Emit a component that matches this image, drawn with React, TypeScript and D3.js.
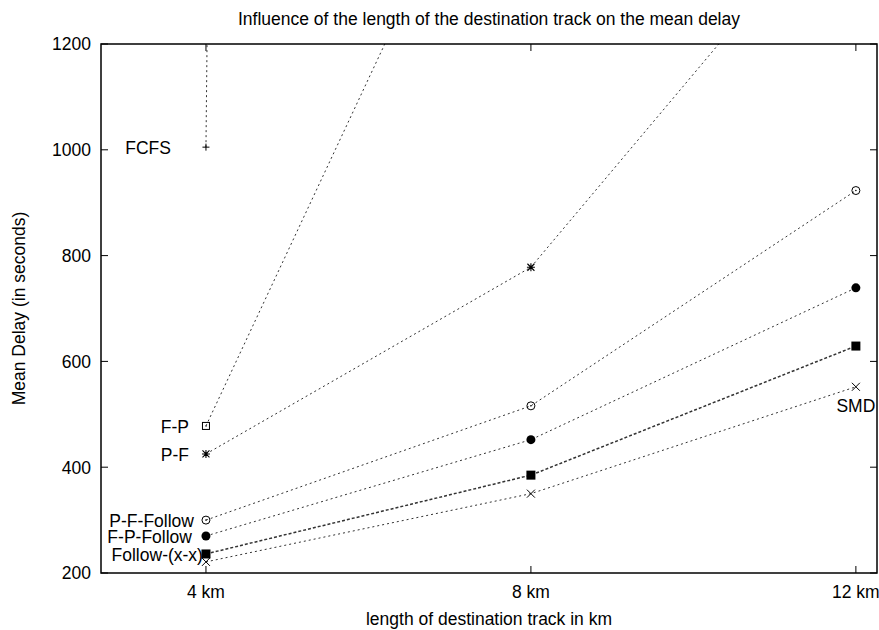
import { useEffect, useRef } from 'react';
import * as d3 from 'd3';

// track lengths (km)
const lengths = [4, 8, 12];
const xTickLabels = ['4 km', '8 km', '12 km'];
const yTicks = [200, 400, 600, 800, 1000, 1200];

// mean delay per strategy (s); values above 1200 run off the top of the plot
const fcfs = [1005, 60000, 120000];
const fp = [478, 1790, 3200];
const pf = [425, 778, 1508];
const pfFollow = [300, 516, 923];
const fpFollow = [270, 452, 739];
const followXX = [236, 385, 629];
const smd = [221, 350, 552];

type Marker = 'plus' | 'boxdot' | 'star' | 'circledot' | 'disc' | 'fillbox' | 'cross';

interface Series {
  name: string;
  values: number[];
  marker: Marker;
  labelDx: number;
  labelDy: number;
  anchor: 'start' | 'middle' | 'end';
}

const series: Series[] = [
  { name: 'FCFS', values: fcfs, marker: 'plus', labelDx: -35, labelDy: 7, anchor: 'end' },
  { name: 'F-P', values: fp, marker: 'boxdot', labelDx: -17, labelDy: 7, anchor: 'end' },
  { name: 'P-F', values: pf, marker: 'star', labelDx: -17, labelDy: 7, anchor: 'end' },
  { name: 'P-F-Follow', values: pfFollow, marker: 'circledot', labelDx: -12, labelDy: 7, anchor: 'end' },
  { name: 'F-P-Follow', values: fpFollow, marker: 'disc', labelDx: -14, labelDy: 7, anchor: 'end' },
  { name: 'Follow-(x-x)', values: followXX, marker: 'fillbox', labelDx: -3, labelDy: 7, anchor: 'end' },
  { name: 'SMD', values: smd, marker: 'cross', labelDx: 0, labelDy: 25, anchor: 'middle' },
];

const App = () => {
  const svgRef = useRef<SVGSVGElement | null>(null);
  const width = 879;
  const height = 630;

  useEffect(() => {
    if (!svgRef.current) return;
    const svg = d3.select(svgRef.current);
    svg.selectAll('*').remove();

    const margin = { top: 44, right: 2, bottom: 57, left: 101 };
    const innerW = width - margin.left - margin.right;
    const innerH = height - margin.top - margin.bottom;

    const x = d3.scaleLinear().domain([2.708, 12.26]).range([0, innerW]);
    const y = d3.scaleLinear().domain([200, 1200]).range([innerH, 0]);

    const font = '"Liberation Sans", Arial, Helvetica, sans-serif';
    const fs = '17.5px';

    svg.append('defs').append('clipPath').attr('id', 'plotclip')
      .append('rect').attr('width', innerW).attr('height', innerH);

    const g = svg.append('g').attr('transform', `translate(${margin.left},${margin.top})`);

    // ticks (inward, on all four sides)
    const tickLen = 7;
    yTicks.forEach(t => {
      g.append('line').attr('x1', 0).attr('x2', tickLen).attr('y1', y(t)).attr('y2', y(t))
        .attr('stroke', '#000');
      g.append('line').attr('x1', innerW).attr('x2', innerW - tickLen).attr('y1', y(t)).attr('y2', y(t))
        .attr('stroke', '#000');
      g.append('text').attr('x', -10).attr('y', y(t)).attr('dy', '0.36em')
        .attr('text-anchor', 'end').style('font-family', font).style('font-size', fs)
        .text(t);
    });
    lengths.forEach((l, i) => {
      g.append('line').attr('x1', x(l)).attr('x2', x(l)).attr('y1', innerH).attr('y2', innerH - tickLen)
        .attr('stroke', '#000');
      g.append('line').attr('x1', x(l)).attr('x2', x(l)).attr('y1', 0).attr('y2', tickLen)
        .attr('stroke', '#000');
      g.append('text').attr('x', x(l)).attr('y', innerH + 25)
        .attr('text-anchor', 'middle').style('font-family', font).style('font-size', fs)
        .text(xTickLabels[i]);
    });

    // lines
    const line = d3.line<number>()
      .x((_, i) => x(lengths[i]))
      .y(d => y(d));

    const lines = g.append('g').attr('clip-path', 'url(#plotclip)');
    series.forEach(s => {
      lines.append('path')
        .datum(s.values)
        .attr('fill', 'none')
        .attr('stroke', '#333')
        .attr('stroke-width', s.marker === 'fillbox' ? 1.5 : 1)
        .attr('stroke-dasharray', s.marker === 'fillbox' ? '3,2' : '2,3')
        .attr('d', line);
    });

    // markers
    const drawMarker = (m: Marker, cx: number, cy: number) => {
      const mg = g.append('g').attr('transform', `translate(${cx},${cy})`);
      if (m === 'plus') {
        mg.append('path').attr('d', 'M-3.5,0H3.5M0,-3.5V3.5').attr('stroke', '#000');
      } else if (m === 'boxdot') {
        mg.append('rect').attr('x', -3.5).attr('y', -3.5).attr('width', 7).attr('height', 7)
          .attr('fill', 'none').attr('stroke', '#000');
        mg.append('rect').attr('x', -0.5).attr('y', -0.5).attr('width', 1.2).attr('height', 1.2).attr('fill', '#000');
      } else if (m === 'star') {
        mg.append('path').attr('d', 'M-4,0H4M0,-4V4M-3.5,-3.5L3.5,3.5M-3.5,3.5L3.5,-3.5')
          .attr('stroke', '#000').attr('stroke-width', 1.1);
      } else if (m === 'circledot') {
        mg.append('circle').attr('r', 4).attr('fill', 'none').attr('stroke', '#000');
        mg.append('circle').attr('r', 0.8).attr('fill', '#000');
      } else if (m === 'disc') {
        mg.append('circle').attr('r', 4.5).attr('fill', '#000');
      } else if (m === 'fillbox') {
        mg.append('rect').attr('x', -4.5).attr('y', -4.5).attr('width', 9).attr('height', 9).attr('fill', '#000');
      } else if (m === 'cross') {
        mg.append('path').attr('d', 'M-4,-4L4,4M-4,4L4,-4').attr('stroke', '#000');
      }
    };

    series.forEach(s => {
      s.values.forEach((v, i) => {
        if (v <= 1200) drawMarker(s.marker, x(lengths[i]), y(v));
      });
      // point label next to the 4 km point, SMD under the 12 km point
      const li = s.name === 'SMD' ? 2 : 0;
      g.append('text')
        .attr('x', x(lengths[li]) + s.labelDx)
        .attr('y', y(s.values[li]) + s.labelDy)
        .attr('text-anchor', s.anchor)
        .style('font-family', font).style('font-size', fs)
        .text(s.name);
    });

    // frame
    g.append('rect').attr('width', innerW).attr('height', innerH)
      .attr('fill', 'none').attr('stroke', '#000').attr('stroke-width', 1.5);

    // titles
    svg.append('text').attr('x', margin.left + innerW / 2).attr('y', 25)
      .attr('text-anchor', 'middle').style('font-family', font).style('font-size', fs)
      .text('Influence of the length of the destination track on the mean delay');
    svg.append('text').attr('x', margin.left + innerW / 2).attr('y', 625)
      .attr('text-anchor', 'middle').style('font-family', font).style('font-size', fs)
      .text('length of destination track in km');
    svg.append('text')
      .attr('transform', `translate(25,${margin.top + innerH / 2}) rotate(-90)`)
      .attr('text-anchor', 'middle').style('font-family', font).style('font-size', fs)
      .text('Mean Delay (in seconds)');
  }, []);

  return (
    <svg
      ref={svgRef}
      width={width}
      height={height}
      style={{ position: 'absolute', left: 0, top: 0, background: '#fff' }}
    />
  );
};

export default App;
